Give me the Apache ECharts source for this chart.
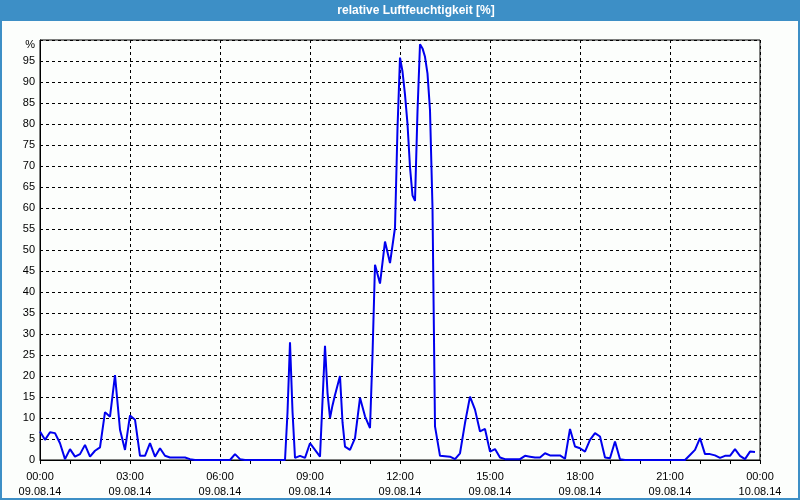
<!DOCTYPE html>
<html>
<head>
<meta charset="utf-8">
<script src="https://cdn.jsdelivr.net/npm/echarts@6/dist/echarts.min.js"></script>
<style>
html,body{margin:0;padding:0;background:#fcfefc;}
#chart{width:800px;height:500px;}
</style>
</head>
<body>
<div id="chart"></div>
<script>
// time in minutes after 09.08.14 00:00
var times = [0,10,20,30,40,50,60,70,80,90,100,110,120,130,140,150,160,170,180,190,200,210,220,230,240,250,260,270,280,290,300,310,380,390,400,410,490,495,500,505,510,520,530,540,550,560,565,570,575,580,585,590,600,605,610,620,630,640,650,660,665,670,680,690,700,710,715,720,725,730,735,740,745,750,755,760,765,770,775,780,785,790,795,800,820,830,840,850,860,870,880,890,900,910,920,930,960,970,980,990,1000,1010,1020,1030,1040,1050,1060,1070,1080,1090,1100,1110,1120,1130,1140,1150,1160,1170,1290,1300,1310,1320,1330,1340,1350,1360,1370,1380,1390,1400,1410,1420,1430];
var humidity = [6.8,4.8,6.6,6.4,4.0,0.2,2.6,0.8,1.4,3.6,0.8,2.2,3.0,11.4,10.3,20.2,7.2,2.4,10.6,9.6,1.0,1.0,4.0,0.8,2.8,1.0,0.6,0.6,0.6,0.6,0.2,0,0,1.4,0.2,0,0,11.3,28,11.6,0.5,1.0,0.5,4.0,2.4,0.8,14,27.2,16,10,13,15.5,20,9,3.2,2.4,5.2,14.8,10.4,7.6,25,46.5,42,52,46.9,55.3,79,95.8,92.5,87,80,69.7,63,61.7,83,99,98,96,92,83.3,60,8.0,4.5,1.0,0.8,0.2,1.6,8.8,15.1,12,6.8,7.4,2,2.6,0.6,0.2,0.2,1.0,0.8,0.6,0.6,1.6,1.1,1.1,1.1,0.3,7.4,3.2,2.8,2.0,4.8,6.4,5.6,0.6,0.4,4.4,0.2,0,0,1.2,2.4,5.2,1.4,1.4,1.1,0.5,1.0,1.0,2.6,1.0,0.2,2.0,1.9];
var titleText = 'relative Luftfeuchtigkeit [%]';
var yUnit = '%';
var dates = ['09.08.14','10.08.14'];

var data = times.map(function(t,i){return [t, humidity[i]];});
var font = 'Liberation Sans, Arial, sans-serif';

var chart = echarts.init(document.getElementById('chart'), null, {renderer:'canvas'});
chart.setOption({
  animation:false,
  backgroundColor:'#fcfefc',
  grid:{left:40, top:40, width:720, height:420, show:true, borderColor:'#000', borderWidth:1, backgroundColor:'transparent'},
  graphic:[
    {type:'rect', shape:{x:0,y:0,width:800,height:21}, style:{fill:'#3d8fc6'}, silent:true},
    {type:'rect', shape:{x:1,y:0,width:798,height:499}, style:{fill:'none', stroke:'#3d8fc6', lineWidth:2}, silent:true},
    {type:'text', x:416, y:11, style:{text:titleText, fill:'#fff', font:'bold 12px '+font, textAlign:'center', textVerticalAlign:'middle'}, silent:true}
  ],
  xAxis:{
    type:'value', min:0, max:1440, interval:180,
    axisLine:{show:true, lineStyle:{color:'#000', width:1}},
    axisTick:{show:true, length:4, lineStyle:{color:'#000'}},
    minorTick:{show:true, splitNumber:3, length:4, lineStyle:{color:'#000'}},
    splitLine:{show:true, lineStyle:{color:'#000', type:[3,3], width:1}},
    axisLabel:{
      color:'#000', fontFamily:font, fontSize:11, lineHeight:15, margin:9,
      formatter:function(v){
        var h = Math.floor(v/60)%24;
        var d = v>=1440 ? dates[1] : dates[0];
        return (h<10?'0':'')+h+':00\n'+d;
      }
    }
  },
  yAxis:{
    type:'value', min:0, max:100, interval:5,
    axisLine:{show:true, lineStyle:{color:'#000', width:1}},
    axisTick:{show:false},
    splitLine:{show:true, lineStyle:{color:'#000', type:[3,3], width:1}},
    axisLabel:{
      color:'#000', fontFamily:font, fontSize:11, margin:5,
      formatter:function(v){ return v===100 ? '{u|'+yUnit+'}' : String(v); },
      rich:{u:{color:'#000', fontFamily:font, fontSize:11, padding:[10,0,0,0]}}
    }
  },
  series:[{
    type:'line', data:data, symbol:'none', smooth:false,
    lineStyle:{color:'#0000ee', width:2}, clip:true
  }]
});
</script>
</body>
</html>
